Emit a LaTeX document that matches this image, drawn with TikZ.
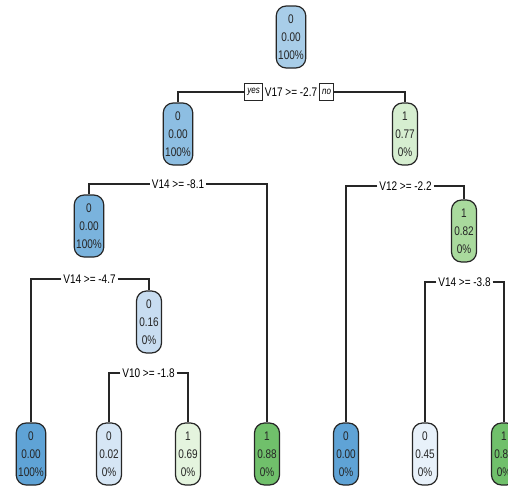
\documentclass[tikz,border=0pt]{standalone}
\usepackage{fontspec}
\setmainfont{Liberation Sans}[FakeStretch=0.8]
\usetikzlibrary{positioning}
\definecolor{bluea}{HTML}{A8CDE8}
\definecolor{blueb}{HTML}{8DBEE2}
\definecolor{bluec}{HTML}{7AB3DD}
\definecolor{blued}{HTML}{5FA3D6}
\definecolor{bluee}{HTML}{C8DDF1}
\definecolor{bluef}{HTML}{D6E6F5}
\definecolor{blueg}{HTML}{E8F1FA}
\definecolor{greena}{HTML}{D6EED0}
\definecolor{greenb}{HTML}{A9DA9D}
\definecolor{greenc}{HTML}{E4F4DE}
\definecolor{greend}{HTML}{70C06B}

\begin{document}
\begin{tikzpicture}[x=1pt,y=-1pt,line width=1.1pt,
  box/.style={draw=black!85,line width=1.2pt,rounded corners=10pt,minimum width=25pt,
    minimum height=62pt,inner sep=2pt,align=center,text=black!85,
    font=\fontsize{12.5}{18}\selectfont},
  split/.style={fill=white,inner sep=1.5pt,text=black,font=\fontsize{12.5}{14}\selectfont},
  yesno/.style={draw=black!85,line width=1pt,fill=white,inner xsep=2.5pt,inner ysep=0pt,
    minimum height=17pt,font=\fontsize{10}{12}\selectfont\itshape}]
  \clip (0,0) rectangle (508,485); % picture frame, cuts the last leaf

  % inner nodes
  \node[box,fill=bluea] (n1) at (291,37) {0\\0.00\\100\%};
  \node[box,fill=blueb] (n2) at (178,134) {0\\0.00\\100\%};
  \node[box,fill=greena] (n3) at (405,134) {1\\0.77\\0\%};
  \node[box,fill=bluec] (n4) at (89,226) {0\\0.00\\100\%};
  \node[box,fill=greenb] (n5) at (464,231) {1\\0.82\\0\%};
  \node[box,fill=bluee] (n9) at (149,322) {0\\0.16\\0\%};

  % leaves
  \node[box,fill=blued] (l1) at (31,454) {0\\0.00\\100\%};
  \node[box,fill=bluef] (l2) at (109,454) {0\\0.02\\0\%};
  \node[box,fill=greenc] (l3) at (188,454) {1\\0.69\\0\%};
  \node[box,fill=greend] (l4) at (267,454) {1\\0.88\\0\%};
  \node[box,fill=blued] (l5) at (346,454) {0\\0.00\\0\%};
  \node[box,fill=blueg] (l6) at (425,454) {0\\0.45\\0\%};
  \node[box,fill=greend] (l7) at (504,454) {1\\0.88\\0\%};

  % splits
  \node[split] (s1) at (291,92) {V17 >= -2.7};
  \node[yesno,anchor=east] (yes) at (s1.west) {yes};
  \node[yesno,anchor=west] (no) at (s1.east) {no};
  \draw[black!85] (yes.west) -| (n2.north);
  \draw[black!85] (no.east) -| (n3.north);

  \node[split] (s2) at (178,184) {V14 >= -8.1};
  \draw[black!85] (s2.west) -| (n4.north);
  \draw[black!85] (s2.east) -| (l4.north);

  \node[split] (s3) at (405.5,186) {V12 >= -2.2};
  \draw[black!85] (s3.west) -| (l5.north);
  \draw[black!85] (s3.east) -| (n5.north);

  \node[split] (s4) at (89.5,279) {V14 >= -4.7};
  \draw[black!85] (s4.west) -| (l1.north);
  \draw[black!85] (s4.east) -| (n9.north);

  \node[split] (s5) at (148.5,373) {V10 >= -1.8};
  \draw[black!85] (s5.west) -| (l2.north);
  \draw[black!85] (s5.east) -| (l3.north);

  \node[split] (s6) at (464.5,282) {V14 >= -3.8};
  \draw[black!85] (s6.west) -| (l6.north);
  \draw[black!85] (s6.east) -| (l7.north);
\end{tikzpicture}
\end{document}
